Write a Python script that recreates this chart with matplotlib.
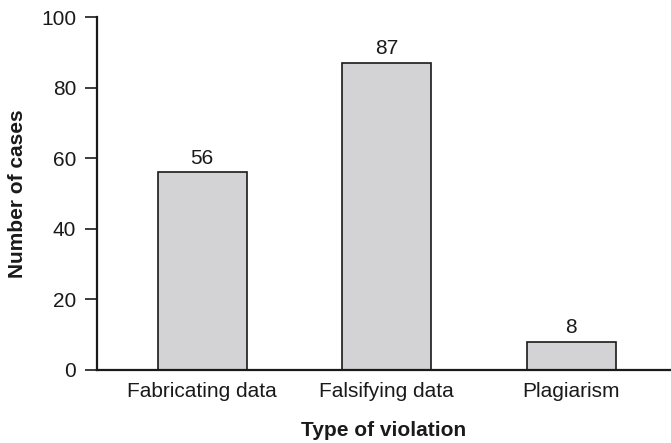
import numpy as np
import matplotlib
matplotlib.use("Agg")
from matplotlib import pyplot as plt

# data
categories = ["Fabricating data", "Falsifying data", "Plagiarism"]
cases = [56, 87, 8]
yticks = [0, 20, 40, 60, 80, 100]

plt.rcParams['font.family'] = ['Liberation Sans', 'DejaVu Sans']

fig = plt.figure(figsize=(6.71, 4.43), dpi=100)
ax = fig.add_axes([0.1446, 0.1648, 0.8554, 0.7968])

x = np.arange(len(categories))
bars = ax.bar(x, cases, width=0.48, color='#d3d3d5', edgecolor='#1a1a1a', linewidth=1.2)

for xi, v in zip(x, cases):
    ax.text(xi, v + 1.3, str(v), ha='center', va='bottom', fontsize=15, color='#1a1a1a')

ax.set_xlim(-0.57, 2.54)
ax.set_ylim(0, 100)
ax.set_yticks(yticks)
ax.set_xticks(x)
ax.set_xticklabels(categories, fontsize=15, color='#1a1a1a')
ax.tick_params(axis='y', labelsize=15, length=9, width=1.2, colors='#1a1a1a', pad=6)
ax.tick_params(axis='x', length=0, pad=9)

for s in ['top', 'right']:
    ax.spines[s].set_visible(False)
for s in ['left', 'bottom']:
    ax.spines[s].set_linewidth(1.6)
    ax.spines[s].set_color('#1a1a1a')

ax.set_xlabel('Type of violation', fontsize=15, fontweight='bold', labelpad=14, color='#1a1a1a')
ax.set_ylabel('Number of cases', fontsize=15, fontweight='bold', labelpad=10, color='#1a1a1a')

fig.savefig('out.png', dpi=100)
